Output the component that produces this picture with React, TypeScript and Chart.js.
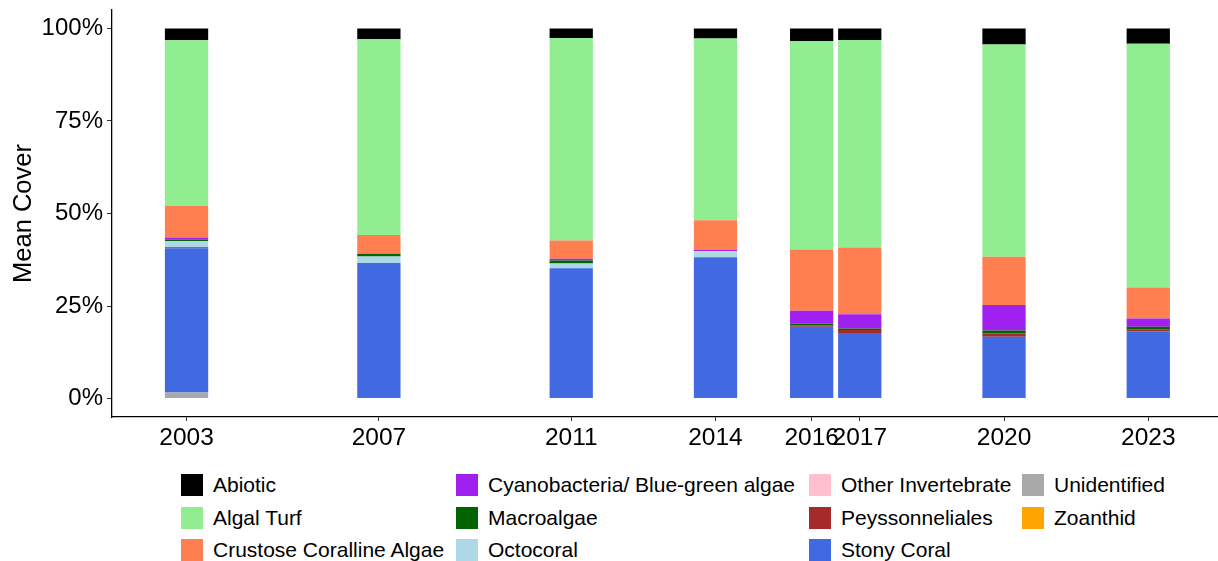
import React, { useEffect, useRef } from "react";
import { Chart, registerables } from "chart.js";

Chart.register(...registerables);

const years = [2003, 2007, 2011, 2014, 2016, 2017, 2020, 2023];
const yTicks = [0, 25, 50, 75, 100];

const abiotic = [3.2, 2.9, 2.6, 2.7, 3.4, 3.1, 4.3, 4.1];
const algalTurf = [44.7, 52.9, 54.7, 49.1, 56.3, 56.1, 57.4, 65.9];
const crustoseCoralline = [8.6, 5.1, 4.9, 8.0, 16.6, 18.0, 13.0, 8.4];
const cyanobacteria = [0.6, 0, 0.5, 0.4, 3.4, 3.9, 6.9, 2.2];
const macroalgae = [0.3, 0.7, 0.8, 0, 0.5, 0.4, 0.8, 0.7];
const octocoral = [1.7, 1.8, 1.3, 1.6, 0, 0, 0, 0];
const otherInvertebrate = [0, 0, 0, 0, 0, 0, 0, 0];
const peyssonneliales = [0.3, 0, 0, 0, 0.4, 0.8, 0.9, 0.6];
const stonyCoral = [39.0, 36.6, 35.2, 38.2, 19.4, 17.7, 16.7, 18.1];
const unidentified = [1.6, 0, 0, 0, 0, 0, 0, 0];
const zoanthid = [0, 0, 0, 0, 0, 0, 0, 0];

// legend / alphabetical order
const categories = [
  { name: "Abiotic", color: "#000000", values: abiotic },
  { name: "Algal Turf", color: "#90EE90", values: algalTurf },
  { name: "Crustose Coralline Algae", color: "#FF7F50", values: crustoseCoralline },
  { name: "Cyanobacteria/ Blue-green algae", color: "#A020F0", values: cyanobacteria },
  { name: "Macroalgae", color: "#006400", values: macroalgae },
  { name: "Octocoral", color: "#ADD8E6", values: octocoral },
  { name: "Other Invertebrate", color: "#FFC0CB", values: otherInvertebrate },
  { name: "Peyssonneliales", color: "#A52A2A", values: peyssonneliales },
  { name: "Stony Coral", color: "#4169E1", values: stonyCoral },
  { name: "Unidentified", color: "#A9A9A9", values: unidentified },
  { name: "Zoanthid", color: "#FFA500", values: zoanthid },
];

const FONT = "'Liberation Sans', Arial, Helvetica, sans-serif";

export default function App() {
  const canvasRef = useRef<HTMLCanvasElement | null>(null);

  useEffect(() => {
    const canvas = canvasRef.current;
    if (!canvas) return;
    // stack: first level on top -> reverse for Chart.js (first dataset at bottom)
    const datasets = [...categories].reverse().map((c) => ({
      label: c.name,
      data: years.map((yr, i) => ({ x: yr, y: c.values[i] })),
      backgroundColor: c.color,
      borderWidth: 0,
      barPercentage: 0.9,
      categoryPercentage: 1.0,
    }));

    const chart = new Chart(canvas, {
      type: "bar",
      data: { datasets },
      options: {
        responsive: false,
        animation: false,
        layout: { padding: { top: 10, right: 0, left: 0, bottom: 0 } },
        plugins: { legend: { display: false }, tooltip: { enabled: false } },
        scales: {
          x: {
            type: "linear",
            stacked: true,
            offset: false,
            min: 2001.45,
            max: 2024.45,
            afterBuildTicks: (scale: any) => {
              scale.ticks = years.map((v) => ({ value: v }));
            },
            afterFit: (scale: any) => {
              scale.height = 45;
              scale.paddingLeft = 0;
              scale.paddingRight = 0;
            },
            ticks: {
              autoSkip: false,
              maxRotation: 0,
              padding: 3,
              color: "#000",
              font: { family: FONT, size: 24.5 },
              callback: (v: any) => String(v),
            },
            grid: {
              offset: false,
              drawOnChartArea: false,
              drawTicks: true,
              tickLength: 4,
              color: "#333",
              lineWidth: 1,
            },
            border: { display: true, color: "#000", width: 1.3 },
          },
          y: {
            type: "linear",
            stacked: true,
            min: -5,
            max: 105,
            afterBuildTicks: (scale: any) => {
              scale.ticks = yTicks.map((v) => ({ value: v }));
            },
            afterFit: (scale: any) => {
              scale.width = 112;
              scale.paddingTop = 0;
              scale.paddingBottom = 0;
            },
            ticks: {
              padding: 4,
              color: "#000",
              font: { family: FONT, size: 24 },
              callback: (v: any) => v + "%",
            },
            grid: {
              drawOnChartArea: false,
              drawTicks: true,
              tickLength: 5,
              color: "#333",
              lineWidth: 1,
            },
            border: { display: true, color: "#000", width: 1.3 },
            title: {
              display: true,
              text: "Mean Cover",
              color: "#000",
              font: { family: FONT, size: 25.5 },
              padding: { top: 9, bottom: 0 },
            },
          },
        },
      },
    });
    return () => chart.destroy();
  }, []);

  return (
    <div
      style={{
        position: "fixed",
        left: 0,
        top: 0,
        width: 1218,
        height: 561,
        background: "#fff",
        overflow: "hidden",
      }}
    >
      <canvas ref={canvasRef} width={1218} height={462} style={{ display: "block" }} />
      <div
        style={{
          position: "absolute",
          left: 181,
          top: 469,
          display: "grid",
          gridTemplateColumns: "275px 353px 213px auto",
          gridTemplateRows: "repeat(3, 32.5px)",
          gridAutoFlow: "column",
          fontFamily: FONT,
          fontSize: 21,
          color: "#000",
        }}
      >
        {categories.map((c) => (
          <div key={c.name} style={{ display: "flex", alignItems: "center", whiteSpace: "nowrap" }}>
            <span
              style={{
                display: "inline-block",
                width: 22,
                height: 22,
                background: c.color,
                marginRight: 10,
                flex: "none",
              }}
            />
            <span>{c.name}</span>
          </div>
        ))}
      </div>
    </div>
  );
}
